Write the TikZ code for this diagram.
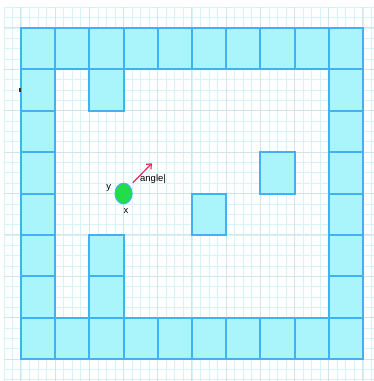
\documentclass[tikz,border=0pt]{standalone}
\usepackage{fontspec}
\setmainfont{Liberation Sans}
\usetikzlibrary{arrows.meta}
\definecolor{wallfill}{HTML}{AAF5FC}
\definecolor{walledge}{HTML}{3FB2F4}
\definecolor{minorline}{HTML}{D6F4F8}
\definecolor{majorline}{HTML}{D2E6EA}
\definecolor{ballfill}{HTML}{22DD4A}
\definecolor{arrowred}{HTML}{E8275C}

\begin{document}
\begin{tikzpicture}[x=34.2pt, y=-41.4pt,
  wall/.style={fill=wallfill, draw=walledge, line width=2pt},
  lbl/.style={inner sep=0pt, font=\fontsize{9.5pt}{11pt}\selectfont}]
\useasboundingbox (-0.614,-0.676) rectangle (10.32,8.53);
% grid
\foreach \i in {-2,...,41} \draw[minorline, line width=0.7pt] (\i/4,-0.5) -- (\i/4,8.6);
\foreach \j in {-2,...,34} \draw[minorline, line width=0.7pt] (-0.5,\j/4) -- (10.4,\j/4);
\foreach \i in {0,...,10} \draw[majorline, line width=1pt] (\i,-0.5) -- (\i,8.6);
\foreach \j in {0,...,8} \draw[majorline, line width=1pt] (-0.5,\j) -- (10.4,\j);
% walls
\foreach \i in {0,...,9} {
  \draw[wall] (\i,0) rectangle ++(1,1);
  \draw[wall] (\i,7) rectangle ++(1,1);
}
\foreach \j in {1,...,6} {
  \draw[wall] (0,\j) rectangle ++(1,1);
  \draw[wall] (9,\j) rectangle ++(1,1);
}
\draw[wall] (2,1) rectangle ++(1,1);
\draw[wall] (7,3) rectangle ++(1,1);
\draw[wall] (5,4) rectangle ++(1,1);
\draw[wall] (2,5) rectangle ++(1,1);
\draw[wall] (2,6) rectangle ++(1,1);
\fill[black!80] (-0.06,1.45) rectangle (-0.01,1.55);
% ball
\coordinate (ball) at (3,4);
\draw[fill=ballfill, draw=walledge, line width=1pt] (ball) ellipse [x radius=0.25, y radius=0.25];
\node[lbl] (ylabel) at (2.57,3.87) {y};
\node[lbl] (xlabel) at (3.07,4.42) {x};
\coordinate (tail) at (3.27,3.74);
\coordinate (head) at (3.83,3.27);
\draw[arrowred, line width=1.2pt, -{Straight Barb[length=4pt, width=7pt]}] (tail) -- (head);
\node[lbl, anchor=west] (angle) at (3.48,3.66) {angle\textcolor{black}{|}};
\end{tikzpicture}
\end{document}
